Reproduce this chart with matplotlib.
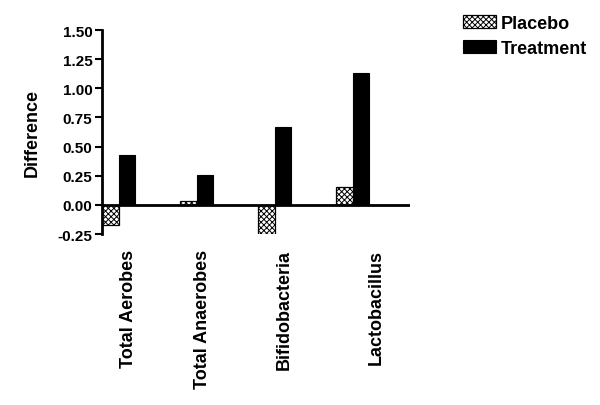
import matplotlib
matplotlib.use("Agg")
import matplotlib.pyplot as plt
import numpy as np

plt.rcParams['font.family'] = ['Liberation Sans', 'DejaVu Sans']
plt.rcParams['font.weight'] = 'bold'
plt.rcParams['hatch.linewidth'] = 0.7

groups = ['Total Aerobes', 'Total Anaerobes', 'Bifidobacteria', 'Lactobacillus']
placebo = [-0.17, 0.03, -0.25, 0.15]
treatment = [0.43, 0.26, 0.67, 1.13]
yticks = [-0.25, 0.00, 0.25, 0.50, 0.75, 1.00, 1.25, 1.50]
# label shift to the right of each group centre
label_shift = [0.13, 0.08, 0.13, 0.30]

fig = plt.figure(figsize=(6.0, 4.06), dpi=100)
ax = fig.add_axes([0.17, 0.421, 0.513, 0.5026])

x = np.arange(len(groups))
w = 0.214

ax.bar(x, placebo, width=-w, align='edge', color='white', edgecolor='black',
       hatch='xxxxxx', linewidth=0.9, label='Placebo')
ax.bar(x, treatment, width=w, align='edge', color='black', edgecolor='black',
       linewidth=0.8, label='Treatment')

ax.axhline(0, color='black', lw=2, zorder=3)

ax.set_xlim(-w, 3.735)
ax.set_ylim(-0.25, 1.5)
ax.set_yticks(yticks)
ax.set_yticklabels(['%.2f' % v for v in yticks], fontsize=11, fontweight='bold')
ax.tick_params(axis='y', length=5, width=1.5, pad=2)

ax.set_xticks(x + np.array(label_shift))
ax.set_xticklabels(groups, rotation=90, fontsize=13, fontweight='bold')
ax.tick_params(axis='x', length=0, pad=11)

for s in ['top', 'right', 'bottom']:
    ax.spines[s].set_visible(False)
ax.spines['left'].set_linewidth(2)

ax.set_ylabel('Difference', fontsize=13, fontweight='bold', labelpad=12)

fig.legend(loc='upper left', bbox_to_anchor=(463 / 600, 1 - 16 / 406),
           frameon=False, borderpad=0, borderaxespad=0,
           handlelength=1.85, handleheight=0.75, handletextpad=0.25,
           labelspacing=0.45, prop={'weight': 'bold', 'size': 13})

fig.savefig('out.png', dpi=100)
